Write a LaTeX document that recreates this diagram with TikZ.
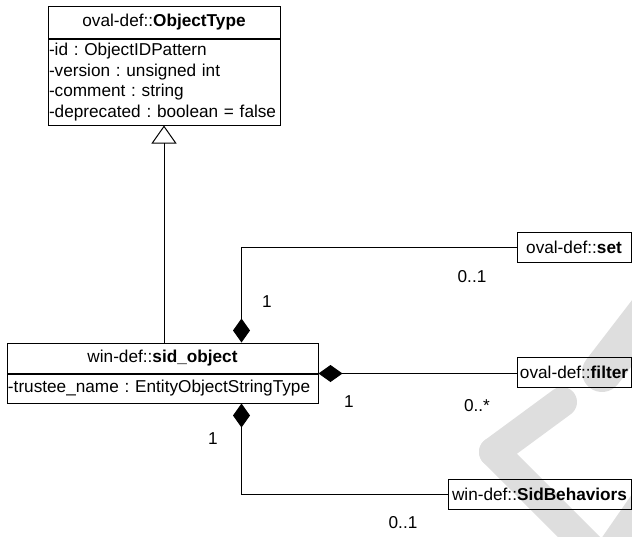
\documentclass[tikz,border=0pt]{standalone}
\usepackage{fontspec}
\setmainfont{Liberation Sans}
\usetikzlibrary{arrows.meta}
\definecolor{wmark}{RGB}{222,222,222}
\begin{document}
\begin{tikzpicture}[x=1pt,y=-1pt,line width=1pt,font=\fontsize{17.2}{20.7}\selectfont\frenchspacing,
  cls/.style={draw,rectangle,inner sep=2pt,minimum height=30pt},
  attr/.style={cls,anchor=north,inner xsep=1pt,align=left},
  mult/.style={inner sep=0pt},
  wm/.style={wmark,line width=30pt,line cap=round},
  comp/.style={{Diamond[length=24pt,width=17pt]}-},
  gen/.style={-{Triangle[open,length=18pt,width=25pt]}}]
\useasboundingbox (0,0) rectangle (632,536);
\clip (0,0) rectangle (632,536);
% watermark
\draw[wm,line width=40pt] (602,372) -- (665,290);
\draw[wm] (494,452) -- (562,402);\draw[wm] (494,452) -- (590,548);
\draw[wm] (660,480) -- (615,545);
% classes
\node[cls,minimum width=232pt,minimum height=32pt] (OT) at (164,22) {oval-def::\textbf{ObjectType}};
\node[attr,minimum height=86pt,text width=230pt] (OTa) at (OT.south)
  {-id : ObjectIDPattern\\-version : unsigned int\\-comment : string\\-deprecated : boolean = false};
\node[cls,minimum width=311pt] (SO) at (162.5,358) {win-def::\textbf{sid\_object}};
\node[attr,minimum height=29pt,text width=309pt] (SOa) at (SO.south)
  {-trustee\_name : EntityObjectStringType};
\node[cls,anchor=east,minimum width=114pt] (ST) at (631.5,247) {oval-def::\textbf{set}};
\node[cls,anchor=east,minimum width=114pt] (FI) at (631.5,372) {oval-def::\textbf{filter}};
\node[cls,anchor=east,minimum width=183pt] (SB) at (631.5,494) {win-def::\textbf{SidBehaviors}};
% links
\draw[gen] (SO.north -| OT.south) -- (OTa.south);
\draw[comp] ([xshift=79pt]SO.north) |- (ST.west);
\draw[comp] (SOa.north east) -- (SOa.north east -| FI.west);
\draw[comp] ([xshift=79pt]SOa.south) |- (SB.west);
% multiplicities
\node[mult] (m1) at (267,302) {1};\node[mult] (m2) at (472,277) {0..1};
\node[mult] (m3) at (349,402) {1};\node[mult] (m4) at (477,406) {0..*};
\node[mult] (m5) at (213,439) {1};\node[mult] (m6) at (403,523) {0..1};
\end{tikzpicture}
\end{document}
